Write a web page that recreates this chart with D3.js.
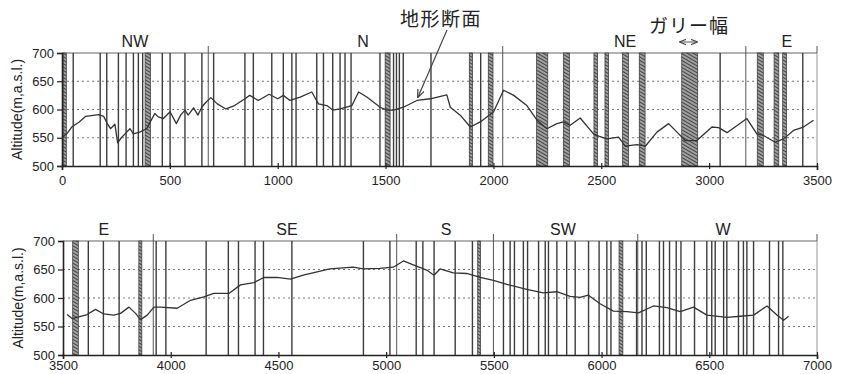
<!DOCTYPE html>
<html><head><meta charset="utf-8">
<script src="https://cdn.jsdelivr.net/npm/d3@7"></script>
<style>
body{margin:0;background:#fff;}
svg{display:block;font-family:Arial,"Liberation Sans",sans-serif;}
</style></head>
<body>
<svg id="chart" width="843" height="374"></svg>
<script>
// ---------- data ----------
const yTicks = [500, 550, 600, 650, 700];
const topXTicks = [0, 500, 1000, 1500, 2000, 2500, 3000, 3500];
const bottomXTicks = [3500, 4000, 4500, 5000, 5500, 6000, 6500, 7000];

// topographic profile, top panel (distance m, altitude m)
const topProfileX = [0,22,45,80,110,170,193,210,225,245,258,275,300,315,331,360,392,405,430,446,470,501,530,550,570,585,610,630,648,665,690,720,760,800,848,870,910,960,1000,1026,1057,1104,1158,1189,1228,1255,1289,1344,1375,1413,1475,1506,1537,1583,1645,1707,1784,1800,1846,1893,1939,2001,2047,2094,2155,2202,2248,2294,2325,2356,2402,2464,2488,2526,2580,2611,2665,2704,2758,2812,2851,2889,2943,3013,3044,3083,3175,3221,3252,3306,3345,3391,3437,3484];
const topProfileY = [551,557,569,578,588,591,588,575,566,574,541,550,560,566,557,560,566,575,593,587,584,596,575,590,599,590,603,590,604,612,621,610,601,607,619,625,616,627,619,625,616,622,631,610,607,599,601,607,631,622,604,599,599,604,616,619,626,604,590,569,578,596,634,625,607,581,566,575,578,572,585,557,553,548,551,535,538,535,560,575,560,545,545,569,568,559,584,557,554,542,548,563,569,581];

// topographic profile, bottom panel
const bottomProfileX = [3519,3542,3573,3612,3651,3689,3736,3767,3806,3837,3860,3891,3922,3953,4030,4092,4154,4200,4270,4324,4386,4432,4494,4556,4615,4739,4847,4894,4971,5033,5080,5126,5188,5222,5250,5312,5374,5436,5498,5560,5653,5730,5792,5854,5900,5939,5993,6055,6117,6171,6241,6303,6365,6427,6489,6582,6644,6706,6768,6814,6845,6868];
const bottomProfileY = [571,564,567,571,580,572,570,573,584,573,562,570,584,584,582,596,602,608,608,623,627,636,636,633,640,651,654,651,652,654,665,658,649,640,651,644,643,636,631,624,615,609,611,603,601,605,590,577,576,574,586,583,576,584,570,566,568,570,586,570,561,568];

// gullies: start / end distance (m)
const topGullyStart = [5,48,172,203,257,295,326,350,370,385,463,496,566,644,698,844,885,968,1024,1061,1081,1176,1210,1253,1284,1307,1335,1472,1498,1533,1546,1560,1578,1706,1888,1936,1976,2200,2324,2466,2517,2599,2676,2873,3049,3223,3301,3341,3432];
const topGullyEnd   = [20,56,182,212,266,299,336,358,378,410,467,506,574,653,708,852,889,977,1028,1070,1089,1186,1214,1257,1294,1317,1345,1476,1521,1541,1555,1568,1586,1715,1903,1946,1998,2252,2352,2483,2534,2626,2703,2947,3053,3251,3323,3359,3436];
const bottomGullyStart = [3545,3613,3685,3758,3852,3928,3975,4162,4265,4312,4389,4428,4560,4892,5013,5137,5168,5220,5318,5398,5425,5542,5573,5593,5634,5654,5705,5736,5751,5790,5835,5874,5937,5986,6022,6041,6081,6160,6185,6205,6266,6285,6313,6344,6366,6429,6486,6509,6525,6564,6579,6633,6656,6672,6703,6777,6819,6839];
const bottomGullyEnd   = [3571,3622,3690,3763,3866,3937,3980,4167,4270,4317,4394,4433,4565,4897,5022,5142,5173,5225,5323,5403,5438,5547,5578,5598,5640,5659,5710,5741,5756,5795,5841,5881,5942,5991,6027,6046,6099,6165,6190,6210,6271,6290,6318,6349,6371,6434,6491,6514,6530,6569,6584,6638,6661,6677,6708,6782,6824,6844];

// slope directions
const topDirections = ["NW","N","NE","E"];
const topDirectionLabelX = [338,1395,2610,3360];
const topDirectionBounds = [678,2043,3170];
const bottomDirections = ["E","SE","S","SW","W"];
const bottomDirectionLabelX = [3690,4540,5278,5821,6564];
const bottomDirectionBounds = [3919,5049,5498,6168];

// ---------- drawing ----------
const svg = d3.select("#chart");
const defs = svg.append("defs");
const pat = defs.append("pattern").attr("id","hatch").attr("patternUnits","userSpaceOnUse")
  .attr("width",3).attr("height",3).attr("patternTransform","rotate(-60)");
pat.append("rect").attr("width",3).attr("height",3).attr("fill","#a0a0a0");
pat.append("line").attr("x1",0).attr("y1",0).attr("x2",0).attr("y2",3).attr("stroke","#333").attr("stroke-width",1.7);

defs.append("marker").attr("id","arr").attr("viewBox","0 0 10 10").attr("refX",9).attr("refY",5)
  .attr("markerWidth",7).attr("markerHeight",7).attr("orient","auto-start-reverse")
  .append("path").attr("d","M0,1 L10,5 L0,9").attr("fill","none").attr("stroke","#444").attr("stroke-width",1.5);

function panel(cfg){
  const x = d3.scaleLinear().domain(cfg.domain).range([cfg.left, cfg.right]);
  const y = d3.scaleLinear().domain([500,700]).range([cfg.bottom, cfg.top]);
  const g = svg.append("g");

  // dotted grid
  g.selectAll(".grid").data(yTicks.filter(v => v>500 && v<700)).join("line")
    .attr("x1", cfg.left).attr("x2", cfg.right)
    .attr("y1", d=>y(d)).attr("y2", d=>y(d))
    .attr("stroke","#777").attr("stroke-width",1).attr("stroke-dasharray","2,3");

  // frame
  g.append("line").attr("x1",cfg.left).attr("x2",cfg.right).attr("y1",cfg.top).attr("y2",cfg.top)
    .attr("stroke","#666").attr("stroke-width",1.2);
  g.append("line").attr("x1",cfg.right).attr("x2",cfg.right).attr("y1",cfg.top).attr("y2",cfg.bottom)
    .attr("stroke","#999").attr("stroke-width",1);

  // gullies
  const gul = cfg.gStart.map((s,i)=>({s, e:cfg.gEnd[i]}));
  gul.forEach(d=>{
    const x0 = x(d.s), w = x(d.e)-x(d.s);
    if (w > 2.2){
      g.append("rect").attr("x",x0).attr("y",cfg.top).attr("width",w).attr("height",cfg.bottom-cfg.top)
        .attr("fill","url(#hatch)").attr("stroke","#333").attr("stroke-width",0.7);
    } else {
      g.append("line").attr("x1",(x(d.s)+x(d.e))/2).attr("x2",(x(d.s)+x(d.e))/2)
        .attr("y1",cfg.top).attr("y2",cfg.bottom)
        .attr("stroke","#3c3c3c").attr("stroke-width",1.4);
    }
  });

  // direction boundaries
  g.selectAll(".bnd").data(cfg.bounds).join("line")
    .attr("x1",d=>x(d)).attr("x2",d=>x(d)).attr("y1",cfg.top-7).attr("y2",cfg.bottom)
    .attr("stroke","#555").attr("stroke-width",1);
  g.append("line").attr("x1",cfg.right).attr("x2",cfg.right).attr("y1",cfg.top-7).attr("y2",cfg.top)
    .attr("stroke","#555").attr("stroke-width",1);

  // direction labels
  g.selectAll(".dir").data(cfg.dirs).join("text")
    .attr("x",(d,i)=>x(cfg.dirX[i])).attr("y",cfg.top-6)
    .attr("text-anchor","middle").attr("font-size",16).attr("fill","#222").text(d=>d);

  // profile
  const pts = cfg.pX.map((v,i)=>[v,cfg.pY[i]]);
  g.append("path").datum(pts)
    .attr("d", d3.line().x(d=>x(d[0])).y(d=>y(d[1])))
    .attr("fill","none").attr("stroke","#333").attr("stroke-width",1.3).attr("stroke-linejoin","round");

  // axes
  const ax = g.append("g").attr("transform",`translate(0,${cfg.bottom})`)
    .call(d3.axisBottom(x).tickValues(cfg.xTicks).tickSize(4).tickPadding(cfg.xPad).tickFormat(d3.format("d")));
  const ay = g.append("g").attr("transform",`translate(${cfg.left},0)`)
    .call(d3.axisLeft(y).tickValues(yTicks).tickSize(5).tickPadding(3));
  [ax,ay].forEach(a=>{
    a.select(".domain").attr("stroke","#222").attr("stroke-width",1.6);
    a.selectAll(".tick line").attr("stroke","#222").attr("stroke-width",1.2);
    a.selectAll("text").attr("font-size",13).attr("fill","#222")
      .attr("font-family","Arial,'Liberation Sans',sans-serif");
  });
  ax.selectAll(".tick line").attr("y1",-3).attr("y2",3);

  // y label
  g.append("text").attr("transform",`translate(${cfg.left-40},${(cfg.top+cfg.bottom)/2}) rotate(-90)`)
    .attr("text-anchor","middle").attr("font-size",14).attr("fill","#222").text("Altitude(m,a.s.l.)");
  return {x,y};
}

panel({domain:[0,3500], left:62, right:817, top:53, bottom:166, xPad:6,
  gStart:topGullyStart, gEnd:topGullyEnd, bounds:topDirectionBounds,
  dirs:topDirections, dirX:topDirectionLabelX, pX:topProfileX, pY:topProfileY, xTicks:topXTicks});
panel({domain:[3500,7000], left:63, right:817, top:241, bottom:355, xPad:2,
  gStart:bottomGullyStart, gEnd:bottomGullyEnd, bounds:bottomDirectionBounds,
  dirs:bottomDirections, dirX:bottomDirectionLabelX, pX:bottomProfileX, pY:bottomProfileY, xTicks:bottomXTicks});

// annotations
svg.append("text").attr("x",441).attr("y",26).attr("text-anchor","middle")
  .attr("font-family","'Noto Sans CJK JP',sans-serif").attr("font-size",19).attr("letter-spacing",1.5)
  .attr("fill","#222").text("地形断面");
svg.append("line").attr("x1",447).attr("y1",30).attr("x2",418).attr("y2",97)
  .attr("stroke","#444").attr("stroke-width",1.2).attr("marker-end","url(#arr)");
svg.append("text").attr("x",689).attr("y",33).attr("text-anchor","middle")
  .attr("font-family","'Noto Sans CJK JP',sans-serif").attr("font-size",19).attr("letter-spacing",1)
  .attr("fill","#222").text("ガリー幅");
svg.append("line").attr("x1",680).attr("y1",42).attr("x2",697).attr("y2",42)
  .attr("stroke","#555").attr("stroke-width",1)
  .attr("marker-start","url(#arr)").attr("marker-end","url(#arr)");
</script>
</body></html>
